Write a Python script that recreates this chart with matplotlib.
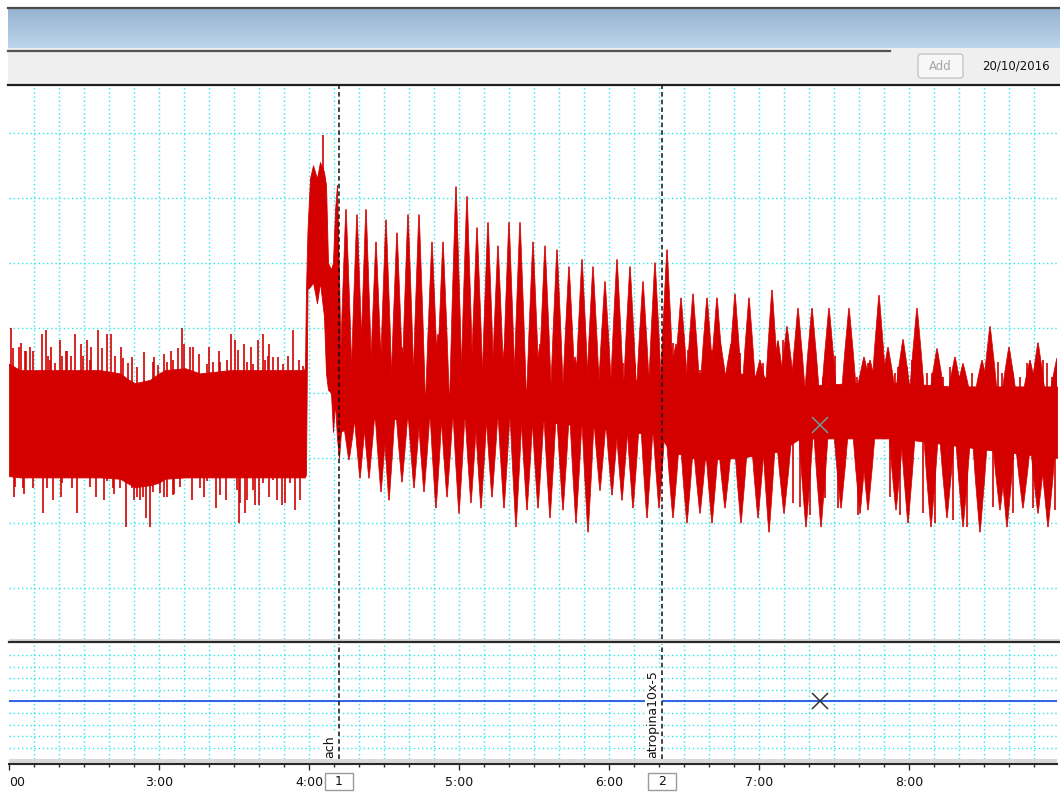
import matplotlib
matplotlib.use("Agg")
import matplotlib.pyplot as plt
import numpy as np
from matplotlib.patches import Rectangle, FancyBboxPatch
from matplotlib.colors import LinearSegmentedColormap
from matplotlib.transforms import blended_transform_factory

W, H = 1060, 794

# visible time window (s)
t_start, t_end = 120.0, 539.2

# solid core of the force trace (time s, upper / lower value)
env_t = [120.0, 124.4, 140.4, 156.4, 164.4, 168.0, 170.4, 176.4, 180.0, 182.4,
         190.4, 196.4, 208.4, 220.4, 228.4, 238.0,
         238.4, 238.8, 239.4, 240.4, 241.6, 243.2, 244.4, 246.0, 246.8, 247.6,
         248.8, 249.6, 250.4, 251.2, 252.0, 252.8,
         260.4, 296.4, 324.4, 347.2, 356.4, 380.4, 384.4, 396.4, 412.4, 428.4,
         436.4, 456.4, 476.4, 496.4, 516.4, 539.2]
env_hi = [3.45, 3.35, 3.35, 3.35, 3.3, 3.2, 3.15, 3.2, 3.3, 3.35,
          3.38, 3.3, 3.35, 3.35, 3.35, 3.35,
          3.4, 4.6, 5.5, 6.3, 6.5, 6.3, 6.55, 6.4, 6.2, 5.0,
          4.9, 5.0, 5.8, 6.2, 4.8, 3.2,
          3.0, 3.0, 3.05, 3.1, 3.2, 3.2, 3.3, 3.3, 3.3, 3.2,
          3.1, 3.15, 3.15, 3.1, 3.1, 3.1]
env_lo = [1.72, 1.7, 1.7, 1.7, 1.68, 1.6, 1.55, 1.58, 1.62, 1.68,
          1.7, 1.7, 1.7, 1.7, 1.7, 1.7,
          1.7, 1.75, 4.6, 4.63, 4.7, 4.38, 4.7, 4.17, 3.3, 3.05,
          3.0, 2.4, 2.85, 2.3, 2.0, 2.4,
          2.6, 2.6, 2.6, 2.5, 2.45, 2.35, 2.1, 1.97, 2.0, 2.1,
          2.3, 2.3, 2.3, 2.2, 2.1, 2.0]

# thin noise spikes (upward)
noise_up_t = [120.8, 121.7, 124.0, 124.7, 126.4, 127.0, 128.4, 129.7, 133.2, 134.8,
              135.7, 136.4, 137.0, 138.4, 140.4, 141.1, 143.0, 143.1, 144.7, 146.4,
              148.8, 149.7, 151.2, 152.4, 153.0, 155.6, 157.1, 159.2, 160.8, 162.4,
              164.8, 165.7, 167.7, 169.2, 171.1, 174.0, 177.7, 178.0, 179.7, 182.0,
              183.1, 185.0, 185.7, 187.7, 189.2, 190.0, 192.4, 193.6, 196.0, 199.1,
              200.0, 201.7, 204.0, 204.4, 207.1, 208.8, 210.4, 211.7, 214.0, 215.1,
              217.0, 217.7, 219.6, 221.6, 222.4, 223.7, 224.0, 225.6, 227.6, 229.7,
              231.7, 233.5, 236.1, 237.5, 245.6,
              351.1, 355.7, 365.7, 370.4, 375.7, 385.7, 391.7, 396.4, 401.1, 405.7,
              412.4, 417.7, 421.7, 427.7, 429.7, 445.7, 450.4, 459.1, 463.7, 472.4,
              474.4, 475.7, 479.1, 481.1, 487.1, 489.1, 493.7, 496.4, 505.1, 511.1,
              515.7, 517.1, 521.7, 524.4, 527.1, 533.7, 535.1, 537.1]
noise_up_v = [4.0, 3.69, 3.7, 3.76, 3.64, 3.65, 3.7, 3.64, 3.9, 3.97,
              3.56, 3.51, 3.7, 3.46, 3.82, 3.56, 3.65, 3.64, 3.56, 3.9,
              3.75, 3.56, 3.82, 3.51, 3.7, 3.97, 3.69, 3.9, 3.9, 3.56,
              3.7, 3.53, 3.46, 3.55, 3.4, 3.63, 3.48, 3.55, 3.43, 3.6,
              3.48, 3.65, 3.5, 3.69, 4.0, 3.75, 3.7, 3.7, 3.6, 3.45,
              3.7, 3.48, 3.65, 3.48, 3.5, 3.9, 3.82, 3.66, 3.75, 3.48,
              3.7, 3.45, 3.82, 3.9, 3.5, 3.56, 3.75, 3.55, 3.55, 3.45,
              3.56, 3.97, 3.51, 3.42, 6.97,
              3.25, 3.4, 3.46, 3.46, 3.3, 3.76, 3.66, 3.35, 3.66, 3.46,
              3.62, 3.46, 3.46, 3.76, 3.82, 3.25, 3.56, 3.25, 3.46, 3.46,
              3.3, 3.4, 3.4, 3.51, 3.3, 3.3, 3.25, 3.4, 3.3, 3.3,
              3.48, 3.3, 3.3, 3.25, 3.46, 3.51, 3.46, 3.25]

# thin noise spikes (downward)
noise_dn_t = [122.0, 122.4, 125.7, 126.0, 129.7, 133.6, 135.1, 137.6, 141.0, 141.1,
              145.1, 147.2, 152.4, 154.8, 158.0, 159.1, 161.7, 162.0, 164.4, 166.8,
              169.1, 170.0, 171.1, 172.4, 173.7, 174.8, 176.4, 177.7, 180.4, 182.0,
              183.1, 185.7, 186.0, 188.4, 193.2, 196.4, 198.0, 199.1, 202.8, 204.4,
              207.0, 211.1, 212.0, 212.4, 214.4, 215.1, 217.7, 218.4, 220.0, 221.7,
              224.0, 225.7, 227.2, 229.2, 230.4, 232.4, 234.4, 236.4,
              433.7, 436.4, 440.4, 446.4, 451.7, 459.7, 472.4, 476.4, 485.7, 490.4,
              497.7, 503.1, 513.7, 521.7, 529.7, 538.4]
noise_dn_v = [1.4, 1.56, 1.53, 1.45, 1.53, 1.15, 1.53, 1.35, 1.4, 1.61,
              1.53, 1.15, 1.56, 1.4, 1.35, 1.64, 1.53, 1.45, 1.53, 0.94,
              1.53, 1.35, 1.4, 1.35, 1.4, 1.08, 0.94, 1.48, 1.46, 1.4,
              1.4, 1.43, 1.45, 1.56, 1.35, 1.53, 1.4, 1.64, 1.23, 1.43,
              1.35, 1.51, 1.0, 1.3, 1.15, 1.35, 1.51, 1.27, 1.27, 1.61,
              1.4, 1.66, 1.35, 1.27, 1.3, 1.61, 1.2, 1.35,
              1.3, 1.25, 1.12, 1.38, 1.23, 1.12, 1.4, 1.12, 1.15, 1.0,
              1.05, 0.94, 1.25, 1.15, 1.23, 1.2]

# contraction peaks
peak_t = [254.8, 259.2, 260.4, 262.8, 266.8, 268.0, 270.8, 275.2, 277.2, 279.6,
          284.0, 289.2, 291.6, 293.6, 298.8, 303.2, 305.2, 307.2, 311.6, 315.6,
          318.4, 320.0, 324.4, 329.6, 332.4, 334.4, 339.2, 344.0, 346.4, 349.2,
          353.6, 358.4, 363.2, 368.4, 373.6, 378.4, 383.2, 386.8, 388.8, 393.6,
          399.2, 403.2, 404.4, 408.8, 410.4, 416.0, 420.4, 425.2, 427.6, 431.2,
          435.6, 441.2, 448.0, 456.0, 462.0, 464.4, 468.0, 471.6, 477.6, 483.2,
          491.2, 498.4, 501.6, 509.2, 512.4, 520.0, 528.4, 531.6, 539.2]
peak_v = [5.82, 5.74, 3.8, 5.82, 5.32, 3.85, 5.66, 5.46, 3.7, 5.74,
          5.74, 5.32, 3.9, 5.32, 6.17, 6.02, 3.6, 5.54, 5.62, 5.26,
          3.75, 5.62, 5.62, 5.32, 3.75, 5.26, 5.2, 4.94, 3.55, 5.05,
          4.94, 4.71, 5.05, 4.94, 4.71, 5.0, 5.2, 3.75, 4.46, 4.52,
          4.46, 4.46, 3.8, 3.75, 4.52, 4.46, 3.5, 4.58, 3.8, 4.02,
          4.3, 4.3, 4.3, 4.3, 3.55, 3.5, 4.5, 3.7, 3.82, 4.3,
          3.68, 3.55, 3.45, 3.5, 4.02, 3.7, 3.5, 3.77, 3.53]

# contraction troughs
trough_t = [256.0, 260.4, 264.0, 268.8, 272.0, 277.2, 282.0, 286.0, 290.8, 295.2,
            300.0, 304.8, 308.8, 313.2, 318.0, 322.8, 327.2, 331.6, 336.4, 341.6,
            346.8, 351.6, 356.4, 361.2, 365.2, 369.6, 375.2, 380.0, 385.6, 391.2,
            396.4, 401.2, 406.4, 412.8, 419.6, 424.0, 430.0, 438.8, 444.8, 452.8,
            460.4, 463.6, 474.8, 479.6, 488.8, 495.2, 501.6, 508.4, 516.4, 519.2,
            525.6, 531.6, 535.6]
trough_v = [1.97, 1.69, 1.69, 1.48, 1.35, 1.63, 1.54, 1.48, 1.23, 1.4,
            1.15, 1.31, 1.23, 1.4, 1.23, 0.94, 1.2, 1.23, 1.08, 1.2,
            1.0, 0.86, 1.5, 1.43, 1.35, 1.23, 1.08, 1.23, 1.08, 1.0,
            1.15, 1.0, 1.23, 1.0, 1.08, 0.86, 1.15, 0.94, 0.94, 1.23,
            1.15, 1.2, 1.2, 1.0, 0.94, 1.08, 0.94, 0.86, 1.2, 0.94,
            1.23, 1.15, 0.94]

# comments
event_t = [252.0, 381.2]
event_txt = ['ach', 'atropina10x-5']
event_num = ['1', '2']

# cursor position
cursor_t = 444.4
cursor_v = 2.51

tick_t = [120, 180, 240, 300, 360, 420, 480]
tick_lab = ['00', '3:00', '4:00', '5:00', '6:00', '7:00', '8:00']

RED = '#d40000'
GRID = '#2ee6ec'


def rect(x0, y0, x1, y1):
    return [x0 / W, 1 - y1 / H, (x1 - x0) / W, (y1 - y0) / H]


def spike(t, v, b, w):
    # near-triangular contraction spike with a thin tip
    m = b + 0.45 * (v - b)
    xs = [t - w, t - 0.6 * w, t - 0.12, t + 0.12, t + 0.6 * w, t + w]
    ys = [b, m, v, v, m, b]
    return xs, ys


fig = plt.figure(figsize=(W / 100, H / 100), dpi=100)
fig.patch.set_facecolor('white')

# window chrome in pixel coordinates
bg = fig.add_axes([0, 0, 1, 1], zorder=0)
bg.set_xlim(0, W)
bg.set_ylim(H, 0)
bg.axis('off')
cmap = LinearSegmentedColormap.from_list('bar', ['#97b3d1', '#bdd5ec'])
grad = np.linspace(0, 1, 60).reshape(-1, 1)
bg.imshow(grad, cmap=cmap, extent=(8, W, 48, 9), aspect='auto', origin='upper')
bg.set_xlim(0, W)
bg.set_ylim(H, 0)
bg.plot([8, W], [7.5, 7.5], color='#4a4a4a', lw=1.6)
bg.add_patch(Rectangle((8, 48), W - 8, 36, color='#efefef', lw=0))
bg.plot([8, 890], [51, 51], color='#555555', lw=1.6)
bg.plot([8, W], [85, 85], color='#1e1e1e', lw=1.6)
bg.add_patch(FancyBboxPatch((918, 54), 45, 24, boxstyle='round,pad=0,rounding_size=3',
                            fc='#f7f7f7', ec='#c2c2c2', lw=0.9))
bg.text(940.5, 66, 'Add', color='#a6a6a6', fontsize=8.5, ha='center', va='center')
bg.text(1016, 66, '20/10/2016', color='#111111', fontsize=8.5, ha='center', va='center')
bg.add_patch(Rectangle((9, 639), W - 9, 2.5, color='#dadada', lw=0))
bg.plot([9, W], [642, 642], color='#2a2a2a', lw=1.6)

# upper channel: force
ax = fig.add_axes(rect(9, 86, 1057, 639), zorder=1)
ax.set_xlim(t_start, t_end)
ax.set_ylim(-0.785, 7.72)
ax.axis('off')
for v in range(0, 8):
    ax.axhline(v, color=GRID, lw=1, ls=(0, (1, 2)), zorder=0.5)
for t in np.arange(130, 540, 10):
    ax.axvline(t, color=GRID, lw=1, ls=(0, (1, 2)), zorder=0.5)

ax.fill_between(env_t, env_lo, env_hi, color=RED, lw=0.6, zorder=2)
up_base = np.interp(noise_up_t, env_t, env_hi) - 0.2
dn_base = np.interp(noise_dn_t, env_t, env_lo) + 0.2
ax.vlines(noise_up_t, up_base, noise_up_v, color=RED, lw=1.2, zorder=2)
ax.vlines(noise_dn_t, dn_base, noise_dn_v, color=RED, lw=1.2, zorder=2)
for t, v in zip(peak_t, peak_v):
    w = 2.6 if t < 430 else 3.0
    b = np.interp(t, env_t, env_hi) - 0.15
    xs, ys = spike(t, v, b, w)
    ax.fill(xs, ys, color=RED, lw=0.5, zorder=2)
for t, v in zip(trough_t, trough_v):
    w = 2.5 if t < 430 else 3.0
    b = np.interp(t, env_t, env_lo) + 0.15
    xs, ys = spike(t, v, b, w)
    ax.fill(xs, ys, color=RED, lw=0.5, zorder=2)

ax.plot(cursor_t, cursor_v, marker='x', ms=11, mew=1.1, color='#6f9c9c', zorder=6)
for t in event_t:
    ax.axvline(t, color='#111111', lw=1.1, ls=(0, (3, 2)), zorder=5)

# lower channel
ax2 = fig.add_axes(rect(9, 643.5, 1057, 759), zorder=1)
ax2.set_xlim(t_start, t_end)
ax2.set_ylim(-4.94, 4.98)
ax2.axis('off')
for v in range(-4, 5):
    ax2.axhline(v, color=GRID, lw=1, ls=(0, (1, 2)), zorder=0.5)
for t in np.arange(130, 540, 10):
    ax2.axvline(t, color=GRID, lw=1, ls=(0, (1, 2)), zorder=0.5)
ax2.axhline(0, color='#2356e6', lw=1.3, zorder=2)
ax2.plot(cursor_t, 0, marker='x', ms=11, mew=1.1, color='#333333', zorder=6)
for t, txt in zip(event_t, event_txt):
    ax2.axvline(t, color='#111111', lw=1.1, ls=(0, (3, 2)), zorder=5)
    ax2.text(t - 0.9, -4.85, txt, rotation=90, ha='right', va='bottom', fontsize=9,
             color='#111111', zorder=4,
             bbox=dict(fc='white', ec='none', pad=1.5))

# time axis strip
axt = fig.add_axes(rect(9, 759, 1057, 763.5), zorder=1)
axt.set_xlim(t_start, t_end)
axt.set_facecolor('#d9d9d9')
axt.set_yticks([])
for s in ['top', 'left', 'right']:
    axt.spines[s].set_visible(False)
axt.spines['bottom'].set_color('#2a2a2a')
axt.spines['bottom'].set_linewidth(1.5)
axt.set_xticks(tick_t)
axt.set_xticks(np.arange(130, 540, 10), minor=True)
axt.tick_params(axis='x', which='major', length=4, width=1, color='#2a2a2a', labelbottom=False)
axt.tick_params(axis='x', which='minor', length=2.2, width=1, color='#2a2a2a')

blend = blended_transform_factory(axt.transData, bg.transData)
for t, lab in zip(tick_t, tick_lab):
    # first label is cut by the left edge of the chart: only its tail shows
    ha = 'left' if t == t_start else 'center'
    axt.text(t + (0.1 if t == t_start else 0), 783, lab, transform=blend, ha=ha,
             va='center', fontsize=9, color='#111111', clip_on=False)
for t, num in zip(event_t, event_num):
    axt.add_patch(Rectangle((t - 5.6, 773), 11.2, 17, transform=blend, fc='white',
                            ec='#9a9a9a', lw=1, clip_on=False))
    axt.text(t, 781.5, num, transform=blend, ha='center', va='center', fontsize=9,
             color='#111111', clip_on=False)

fig.savefig('out.png', dpi=100)
